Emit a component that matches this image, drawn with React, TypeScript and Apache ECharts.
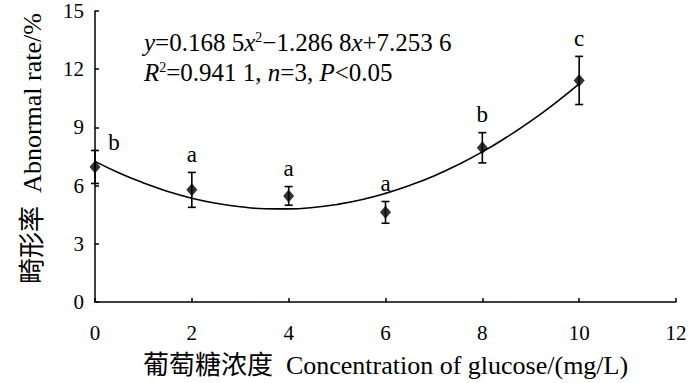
import React, { useEffect, useRef } from "react";
import * as echarts from "echarts";

// Glucose concentration (mg/L)
const concentrations = [0, 2, 4, 6, 8, 10];
// Abnormal rate (%) means
const abnormalRate = [6.96, 5.78, 5.47, 4.62, 7.95, 11.42];
// Error (± SD)
const errorSize = [0.85, 0.9, 0.48, 0.56, 0.78, 1.24];
// Significance letters
const letters = ["b", "a", "a", "a", "b", "c"];
// Fitted curve
const curveX = [0, 0.5, 1, 1.5, 2, 2.5, 3, 3.5, 4, 4.5, 5, 5.5, 6, 6.5, 7, 7.5, 8, 8.5, 9, 9.5, 10];
const curveY = [7.25, 6.65, 6.14, 5.7, 5.35, 5.09, 4.91, 4.81, 4.8, 4.87, 5.03, 5.27, 5.6, 6.01, 6.5, 7.08, 7.74, 8.49, 9.32, 10.24, 11.24];
const xTicks = [0, 12, 2];
const yTicks = [0, 15, 3];

const SERIF = "Liberation Serif, Noto Sans CJK SC, serif";

export default function App() {
  const ref = useRef<HTMLDivElement>(null);
  useEffect(() => {
    if (!ref.current) return;
    const chart = echarts.init(ref.current, null, { renderer: "svg" });
    const errData = concentrations.map((x, i) => [
      x,
      abnormalRate[i] - errorSize[i],
      abnormalRate[i] + errorSize[i],
      i,
    ]);
    chart.setOption({
      animation: false,
      backgroundColor: "#fff",
      grid: { left: 95, right: 24, top: 11, bottom: 78 },
      xAxis: {
        type: "value",
        min: xTicks[0],
        max: xTicks[1],
        interval: xTicks[2],
        name: "葡萄糖浓度  Concentration of glucose/(mg/L)",
        nameLocation: "middle",
        nameGap: 50,
        nameTextStyle: { fontFamily: SERIF, fontSize: 26, color: "#000" },
        axisLine: { onZero: false, lineStyle: { color: "#000", width: 1.5 } },
        axisTick: { inside: true, length: 4, lineStyle: { color: "#000", width: 1.5 } },
        axisLabel: { fontFamily: SERIF, fontSize: 21, color: "#000", margin: 20 },
        splitLine: { show: false },
      },
      yAxis: {
        type: "value",
        min: yTicks[0],
        max: yTicks[1],
        interval: yTicks[2],
        name: "畸形率  Abnormal rate/%",
        nameLocation: "middle",
        nameGap: 50,
        nameTextStyle: { fontFamily: SERIF, fontSize: 26, color: "#000", padding: [0, 0, 0, 16] },
        axisLine: { show: true, lineStyle: { color: "#000", width: 1.5 } },
        axisTick: { show: true, inside: true, length: 4, lineStyle: { color: "#000", width: 1.5 } },
        axisLabel: { fontFamily: SERIF, fontSize: 21, color: "#000", margin: 11 },
        splitLine: { show: false },
      },
      series: [
        {
          type: "line",
          data: curveX.map((x, i) => [x, curveY[i]]),
          smooth: true,
          showSymbol: false,
          symbol: "none",
          lineStyle: { color: "#000", width: 1.6 },
          z: 2,
        },
        {
          type: "custom",
          data: errData,
          z: 3,
          renderItem: (params: any, api: any) => {
            const x = api.value(0);
            const lo = api.coord([x, api.value(1)]);
            const hi = api.coord([x, api.value(2)]);
            const idx = api.value(3);
            const cap = 4;
            const children: any[] = [
              { type: "line", shape: { x1: hi[0], y1: hi[1], x2: lo[0], y2: lo[1] }, style: { stroke: "#000", lineWidth: 1.6 } },
              { type: "line", shape: { x1: hi[0] - cap, y1: hi[1], x2: hi[0] + cap, y2: hi[1] }, style: { stroke: "#000", lineWidth: 1.6 } },
              { type: "line", shape: { x1: lo[0] - cap, y1: lo[1], x2: lo[0] + cap, y2: lo[1] }, style: { stroke: "#000", lineWidth: 1.6 } },
            ];
            const first = idx === 0;
            children.push({
              type: "text",
              x: first ? hi[0] + 19 : hi[0],
              y: first ? hi[1] - 8 : hi[1] - 18,
              style: {
                text: letters[idx],
                fontFamily: SERIF,
                fontSize: 23,
                fill: "#000",
                align: "center",
                verticalAlign: "middle",
              },
            });
            return { type: "group", children };
          },
        },
        {
          type: "scatter",
          data: concentrations.map((x, i) => [x, abnormalRate[i]]),
          symbol: "diamond",
          symbolSize: [11, 13],
          itemStyle: { color: "#000" },
          z: 4,
        },
      ],
      graphic: [
        {
          type: "text",
          left: 144,
          top: 27,
          style: {
            text: "{i|y}=0.168 5{i|x}{sup|2}−1.286 8{i|x}+7.253 6\n{i|R}{sup|2}=0.941 1, {i|n}=3, {i|P}<0.05",
            fontFamily: SERIF,
            fontSize: 25,
            lineHeight: 30,
            fill: "#000",
            rich: {
              i: { fontFamily: SERIF, fontSize: 25, fontStyle: "italic", fill: "#000", lineHeight: 30 },
              sup: { fontFamily: SERIF, fontSize: 14, fill: "#000", verticalAlign: "top", lineHeight: 30, padding: [4, 0, 0, 0] },
            },
          },
        },
      ],
    });
    return () => chart.dispose();
  }, []);
  return <div ref={ref} style={{ width: 700, height: 383, position: "absolute", left: 0, top: 0 }} />;
}
